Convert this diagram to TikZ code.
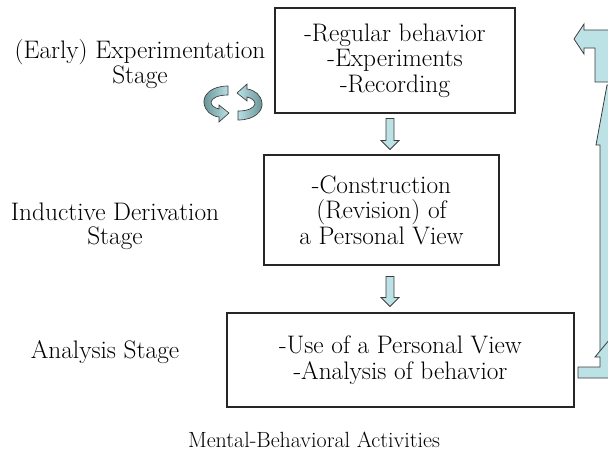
\documentclass[tikz,border=0pt]{standalone}
\usepackage{fontspec}
\usetikzlibrary{calc}
\definecolor{arrowblue}{RGB}{188,226,230}
\definecolor{arrowdark}{RGB}{104,146,150}
\definecolor{edgegray}{RGB}{60,60,60}
\tikzset{
  stagebox/.style={draw=black!85, line width=0.8pt, align=center, inner sep=0pt,
    font=\fontsize{19}{19.1}\selectfont},
  stagelabel/.style={align=center, inner sep=0pt, font=\fontsize{19}{18}\selectfont},
  blockfill/.style={fill=arrowblue, draw=edgegray, line width=0.6pt, line join=miter},
}
\newcommand{\blockdown}[2]{%
  \filldraw[blockfill] ($(#1)+(-4,0)$) -- ($(#1)+(4,0)$) -- ($(#2)+(4,-9)$) -- ($(#2)+(9,-9)$)
    -- (#2) -- ($(#2)+(-9,-9)$) -- ($(#2)+(-4,-9)$) -- cycle;}

\begin{document}
\begin{tikzpicture}[x=0.75pt,y=-0.75pt]
        \useasboundingbox (0,0) rectangle (608,462);

        \node[stagebox, minimum width=180pt, minimum height=78.75pt] (exp) at (395,60.5)
          {-Regular behavior\\-Experiments\\-Recording};
        \node[stagebox, minimum width=176.25pt, minimum height=82.5pt] (ind) at (381.5,210)
          {-Construction\\(Revision) of\\a Personal View};
        \node[stagebox, minimum width=260.25pt, minimum height=70.5pt] (ana) at (400.5,360)
          {-Use of a Personal View\\-Analysis of behavior};

        \node[stagelabel] (explabel) at (140,64) {(Early) Experimentation\\Stage};
        \node[stagelabel] (indlabel) at (115,226) {Inductive Derivation\\Stage};
        \node[stagelabel] (analabel) at (105,352) {Analysis Stage};
        \node[stagelabel, font=\fontsize{16.5}{17}\selectfont] (title) at (314,440) {Mental-Behavioral Activities};

        \coordinate (col) at (390,0);
        \path (exp.south -| col) ++(0,5) coordinate (d1a);
        \path (ind.north -| col) ++(0,-5) coordinate (d1b);
        \blockdown{d1a}{d1b}
        \path (ind.south -| col) ++(0,11) coordinate (d2a);
        \path (ana.north -| col) ++(0,-6) coordinate (d2b);
        \blockdown{d2a}{d2b}

        \shadedraw[left color=arrowdark, right color=arrowblue, draw=edgegray, line width=0.5pt]
          (228,86) .. controls (211,86) and (203,95) .. (204,103)
          .. controls (205,111) and (211,116) .. (219,117) -- (219,122) -- (229,113) -- (219,105) -- (219,109)
          .. controls (214,108) and (211,105) .. (211,102) .. controls (212,98) and (218,95) .. (228,95) -- cycle;
        \shadedraw[left color=arrowblue, right color=arrowdark, draw=edgegray, line width=0.5pt]
          (238,120) .. controls (255,120) and (263,111) .. (262,103)
          .. controls (261,95) and (255,90) .. (247,89) -- (247,84) -- (237,93) -- (247,101) -- (247,97)
          .. controls (252,98) and (255,101) .. (255,104) .. controls (254,108) and (248,111) .. (238,111) -- cycle;

        \begin{scope}
          \clip (0,0) rectangle (608,462);
          \filldraw[blockfill] (574,39) -- (584,24) -- (584,30) -- (615,30) -- (615,82) -- (595,82)
            -- (595,48) -- (584,48) -- (584,54) -- cycle;
          \filldraw[blockfill] (596,145) -- (607,85) -- (615,85) -- (615,352) -- (600,352) -- (600,145) -- cycle;
          \filldraw[blockfill] (578,367) -- (600,367) -- (600,357) -- (595,357) -- (615,333) -- (615,378)
            -- (578,378) -- cycle;
        \end{scope}
      \end{tikzpicture}
\end{document}
